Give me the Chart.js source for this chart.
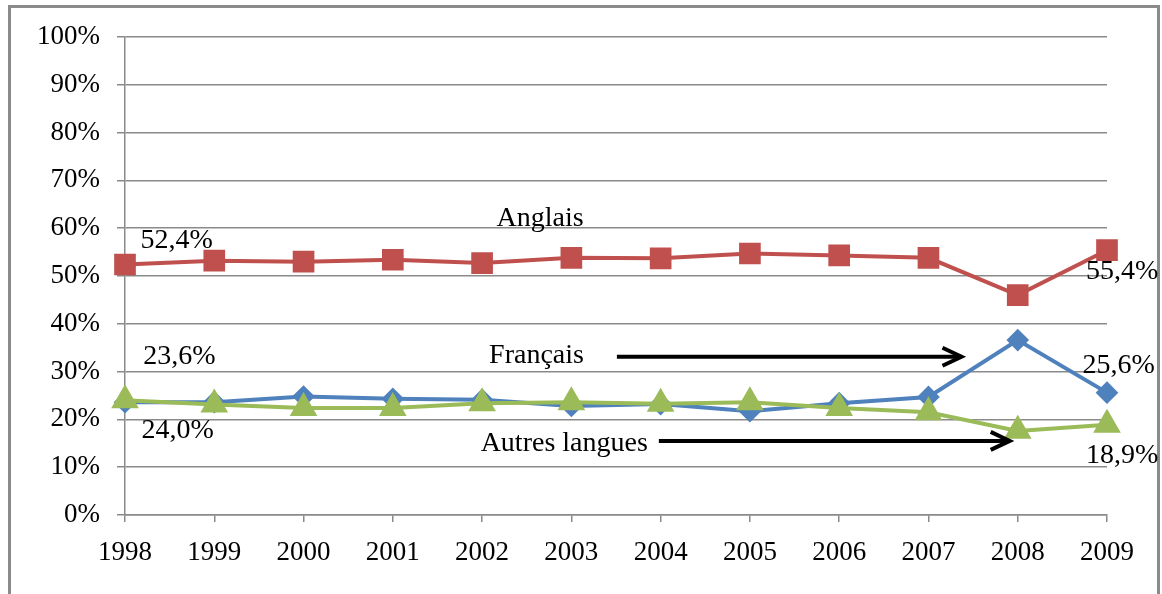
<!DOCTYPE html>
<html>
<head>
<meta charset="utf-8">
<script src="https://cdn.jsdelivr.net/npm/chart.js@4.4.0/dist/chart.umd.min.js"></script>
<style>
  body { margin: 0; background: #fff; }
  #wrap { position: relative; width: 1162px; height: 594px; overflow: hidden; }
  #frame { position: absolute; left: 8px; top: 5px; width: 1146px; height: 620px; border: 3px solid #8a8a8a; }
  canvas { position: absolute; left: 0; top: 0; }
</style>
</head>
<body>
<div id="wrap">
  <div id="frame"></div>
  <canvas id="chart" width="1162" height="594"></canvas>
</div>
<script>
// annees
const annees = ['1998', '1999', '2000', '2001', '2002', '2003', '2004', '2005', '2006', '2007', '2008', '2009'];
// part des langues (%)
const anglais = [52.4, 53.2, 53.0, 53.4, 52.7, 53.8, 53.7, 54.7, 54.3, 53.8, 46.0, 55.4];
const francais = [23.6, 23.6, 24.8, 24.3, 24.1, 22.8, 23.2, 21.7, 23.4, 24.7, 36.6, 25.6];
const autres = [24.0, 23.1, 22.4, 22.4, 23.4, 23.6, 23.3, 23.6, 22.4, 21.5, 17.6, 18.9];

// textes poses sur le graphique : [texte, index annee, valeur %]
const etiquettes = [
    ['Anglais', 4.65, 62.0],
    ['52,4%', 0.58, 57.4],
    ['23,6%', 0.61, 33.1],
    ['24,0%', 0.59, 17.6],
    ['Français', 4.61, 33.4],
    ['Autres langues', 4.92, 14.9],
    ['55,4%', 11.17, 50.9],
    ['25,6%', 11.13, 31.2],
    ['18,9%', 11.17, 12.4]
];
// fleches : [index debut, index fin, valeur %]
const fleches = [
    [5.51, 9.37, 33.1],
    [5.98, 9.91, 15.5]
];

const gris = '#8a8a8a';
const police = 'Liberation Serif, Times New Roman, serif';

const annotations = {
    id: 'annotations',
    afterDatasetsDraw(chart) {
        const ctx = chart.ctx;
        const x = chart.scales.x;
        const y = chart.scales.y;
        ctx.save();
        ctx.fillStyle = '#000';
        ctx.font = '28px ' + police;
        ctx.textAlign = 'center';
        ctx.textBaseline = 'middle';
        etiquettes.forEach(e => {
            ctx.fillText(e[0], x.getPixelForValue(e[1]), y.getPixelForValue(e[2]));
        });
        ctx.strokeStyle = '#000';
        ctx.lineWidth = 4;
        fleches.forEach(f => {
            let x1 = x.getPixelForValue(f[0]);
            let x2 = x.getPixelForValue(f[1]);
            let yy = y.getPixelForValue(f[2]);
            ctx.beginPath();
            ctx.moveTo(x1, yy);
            ctx.lineTo(x2, yy);
            ctx.stroke();
            ctx.beginPath();
            ctx.moveTo(x2 - 19, yy - 9);
            ctx.lineTo(x2, yy);
            ctx.lineTo(x2 - 19, yy + 9);
            ctx.stroke();
        });
        ctx.restore();
    }
};

let ctx = document.getElementById('chart').getContext('2d');
new Chart(ctx, {
    type: 'line',
    data: {
        labels: annees,
        datasets: [{
            label: 'Anglais',
            data: anglais,
            borderColor: '#C0504D',
            backgroundColor: '#C0504D',
            borderWidth: 4,
            pointStyle: 'rect',
            pointRadius: 12.5,
            order: 2
        }, {
            label: 'Français',
            data: francais,
            borderColor: '#4F81BD',
            backgroundColor: '#4F81BD',
            borderWidth: 4,
            pointStyle: 'rectRot',
            pointRadius: 8.5,
            order: 1
        }, {
            label: 'Autres langues',
            data: autres,
            borderColor: '#9BBB59',
            backgroundColor: '#9BBB59',
            borderWidth: 4,
            pointStyle: 'triangle',
            pointRadius: 12,
            order: 0
        }]
    },
    options: {
        responsive: false,
        animation: false,
        layout: { padding: { top: 37, right: 55, left: 0, bottom: 0 } },
        plugins: {
            legend: { display: false },
            tooltip: { enabled: false }
        },
        scales: {
            x: {
                afterFit: function(scale) { scale.height = 79; },
                grid: { drawOnChartArea: false, color: gris, lineWidth: 1.5, tickLength: 7 },
                border: { color: gris, width: 1.5 },
                ticks: { color: '#000', font: { family: police, size: 27 }, padding: 15, maxRotation: 0 }
            },
            y: {
                min: 0,
                max: 100,
                afterFit: function(scale) { scale.width = 125; },
                grid: { color: gris, lineWidth: 1.5, tickLength: 8 },
                border: { color: gris, width: 1.5 },
                ticks: {
                    stepSize: 10,
                    color: '#000',
                    padding: 17,
                    font: { family: police, size: 27 },
                    callback: v => v + '%'
                }
            }
        }
    },
    plugins: [annotations]
});
</script>
</body>
</html>
